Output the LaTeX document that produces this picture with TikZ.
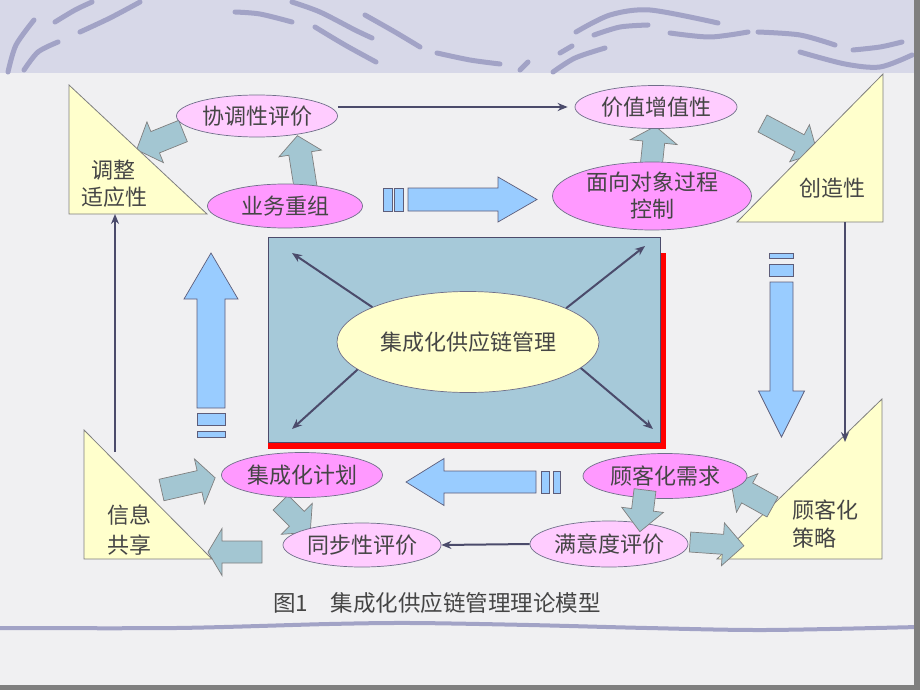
\documentclass[tikz,border=0pt]{standalone}
\usepackage{fontspec}
\newfontfamily\cjk{Noto Sans CJK SC}
\usetikzlibrary{shapes.geometric,arrows.meta,calc}
\definecolor{bg}{HTML}{F0F0F2}
\definecolor{hdr}{HTML}{D7D8E8}
\definecolor{strk}{HTML}{A2A3C6}
\definecolor{tri}{HTML}{FFFFCC}
\definecolor{pinkL}{HTML}{FFCCFF}
\definecolor{pinkD}{HTML}{FF99FF}
\definecolor{ctr}{HTML}{A6C9D9}
\definecolor{bigA}{HTML}{99CCFF}
\definecolor{smA}{HTML}{A3C6D2}
\definecolor{ln}{HTML}{4B4B6B}
\definecolor{txt}{HTML}{454545}
\definecolor{brd}{HTML}{7F7F7F}
\tikzset{
 trishape/.style={fill=tri, draw=brd, line width=0.8pt},
 ell/.style={ellipse, draw=ln!80, line width=0.7pt, inner sep=0pt, text=txt, font=\cjk\fontsize{22}{27}\selectfont},
 ellL/.style={ell, fill=pinkL},
 ellD/.style={ell, fill=pinkD},
 lbl/.style={text=txt, font=\cjk\fontsize{22}{27}\selectfont, inner sep=0pt},
 bigarrow/.style={fill=bigA, draw=ln!90, line width=0.7pt},
 smallarrow/.style={fill=smA, draw=brd, line width=0.7pt},
 conn/.style={draw=ln, line width=2pt, -{Stealth[length=10pt,width=8pt]}},
 hstroke/.style={draw=strk, line width=5pt, line cap=round},
}
% style, tail x, tail y, angle, length, shaft half width, head half width, head length
\newcommand{\blkarrow}[8]{%
\begin{scope}[shift={(#2,#3)},rotate=#4]
 \path[#1] (0,-#6) -- ({#5-#8},-#6) -- ({#5-#8},-#7) -- (#5,0) -- ({#5-#8},#7) -- ({#5-#8},#6) -- (0,#6) -- cycle;
\end{scope}}
\begin{document}
\begin{tikzpicture}[x=1pt,y=-1pt]
\useasboundingbox (0,0) rectangle (920,690);
\fill[bg] (0,0) rectangle (920,690);
% header band
\fill[hdr] (0,0) rectangle (920,73);
\draw[hstroke] plot[smooth] coordinates {(8,72) (16,45) (34,20)};
\draw[hstroke] plot[smooth] coordinates {(24,70) (38,52) (58,42)};
\draw[hstroke] plot[smooth] coordinates {(55,22) (75,10) (92,2)};
\draw[hstroke] plot[smooth] coordinates {(80,32) (110,18) (140,2)};
\draw[hstroke] plot[smooth] coordinates {(235,12) (260,14) (292,22)};
\draw[hstroke] plot[smooth] coordinates {(292,2) (320,12) (355,30) (372,38)};
\draw[hstroke] plot[smooth] coordinates {(315,27) (345,45) (376,62)};
\draw[hstroke] plot[smooth] coordinates {(365,15) (395,32) (420,47)};
\draw[hstroke] plot[smooth] coordinates {(437,53) (470,60) (500,64)};
\draw[hstroke] plot[smooth] coordinates {(520,70) (528,62)};
\draw[hstroke] plot[smooth] coordinates {(553,72) (575,58) (605,48)};
\draw[hstroke] plot[smooth] coordinates {(560,53) (572,46)};
\draw[hstroke] plot[smooth] coordinates {(576,32) (610,15) (650,10) (718,23)};
\draw[hstroke] plot[smooth] coordinates {(594,35) (620,27) (648,25)};
\draw[hstroke] plot[smooth] coordinates {(670,33) (710,37) (748,32)};
\draw[hstroke] plot[smooth] coordinates {(758,32) (800,35) (835,45)};
\draw[hstroke] plot[smooth] coordinates {(800,52) (845,64) (880,67) (912,55)};
\draw[hstroke] plot[smooth] coordinates {(853,50) (880,47) (902,42)};
% bottom wave
\draw[draw=strk, line width=4pt] plot[smooth] coordinates {(0,628) (176,628) (329,624) (412,623) (529,625) (647,628) (765,630) (918,627)};
% borders
\fill[brd] (914,0) rectangle (920,690);
\fill[brd] (0,685) rectangle (920,690);

% centre box with red shadow
\fill[red] (268,253) rectangle (666,449);
\node[draw=ln, fill=ctr, line width=0.8pt, inner sep=0pt, minimum width=392pt, minimum height=205pt] (box) at (464,339.5) {};

% big arrows
\blkarrow{bigarrow}{408}{199.5}{0}{129}{11.5}{22.5}{39}
\path[bigarrow] (383,188) rectangle (392,211);
\path[bigarrow] (394,188) rectangle (403,211);
\blkarrow{bigarrow}{211}{408}{90}{155}{14}{27}{46}
\path[bigarrow] (197,413) rectangle (225,425);
\path[bigarrow] (197,431) rectangle (225,437);
\blkarrow{bigarrow}{781.5}{282}{-90}{155}{11.5}{23}{46}
\path[bigarrow] (769,253) rectangle (793,258);
\path[bigarrow] (769,264) rectangle (793,276);
\blkarrow{bigarrow}{536}{482}{180}{130}{11}{23.5}{38}
\path[bigarrow] (541,471) rectangle (549,493);
\path[bigarrow] (553,471) rectangle (560,493);

% small arrows (under triangles / ellipses)
\blkarrow{smallarrow}{183}{131}{202}{50}{11.5}{22}{20}
\blkarrow{smallarrow}{306}{190}{99}{55}{11.5}{21.5}{18}
\blkarrow{smallarrow}{651}{168}{84}{42}{11}{23.5}{16}
\blkarrow{smallarrow}{762.5}{123.5}{-28}{62}{9.6}{21}{20}
\blkarrow{smallarrow}{161.5}{490}{12.8}{55}{11}{23}{16}
\blkarrow{smallarrow}{262}{552}{180}{54}{11}{23.5}{14}
\blkarrow{smallarrow}{280.5}{502.5}{-45}{42}{10.6}{22}{19}

% triangles
\path[trishape] (69,85) -- (69,214) -- (207,214) -- cycle;
\path[trishape] (883,74) -- (883,222) -- (737,222) -- cycle;
\path[trishape] (84,430) -- (84,559) -- (212,559) -- cycle;
\path[trishape] (882,399) -- (882,559) -- (717,559) -- cycle;
\coordinate (tz-b) at (115,214);
\coordinate (xxgx-t) at (115,452);
\coordinate (czx-b) at (845,222);
\coordinate (gkcl-t) at (845,442);

\blkarrow{smallarrow}{690}{542}{-4}{54}{10}{21.5}{21}
\blkarrow{smallarrow}{772.5}{507}{151}{47}{11.4}{22}{18}

% ellipses
\node[ellL, minimum width=161pt, minimum height=42pt] (xtpj) at (257,116) {协调性评价};
\node[ellD, minimum width=155pt, minimum height=44pt] (ywcz) at (285,206) {业务重组};
\node[ellL, minimum width=162pt, minimum height=43pt] (jzzz) at (656,107) {价值增值性};
\node[ellD, minimum width=199pt, minimum height=68pt] (mxdx) at (652,196) {};
\node[lbl, align=center] (mxdxt) at (mxdx.center) {面向对象过程\\控制};
\node[ellD, minimum width=161pt, minimum height=45pt] (jch) at (302,475) {集成化计划};
\node[ellL, minimum width=158pt, minimum height=44pt] (tbx) at (362,545) {同步性评价};
\node[ellD, minimum width=164pt, minimum height=45pt] (gkxq) at (665,476) {顾客化需求};
\node[ellL, minimum width=158pt, minimum height=46pt] (myd) at (609,544) {满意度评价};
\node[ell, fill=tri, minimum width=262pt, minimum height=101pt] (ce) at (468,342) {集成化供应链管理};

\blkarrow{smallarrow}{645}{490}{-97}{42}{11}{21}{22}

% connectors
\coordinate (l1s) at ($(xtpj.east)+(0,-9)$);
\draw[conn, shorten >=7pt] (l1s) -- (l1s -| jzzz.west);
\draw[conn] (czx-b) -- (gkcl-t);
\draw[conn] (xxgx-t) -- (tz-b);
\draw[conn] (myd.west) -- (tbx.east);
\coordinate (c-nw) at (292,253);
\coordinate (c-ne) at (645,246);
\coordinate (c-sw) at (292,429);
\coordinate (c-se) at (653,429);
\draw[conn] (ce.160) -- (c-nw);
\draw[conn] (ce.19) -- (c-ne);
\draw[conn] (ce.194) -- (c-sw);
\draw[conn] (ce.-13) -- (c-se);

% triangle labels
\node[lbl] (tz1) at (113,170) {调整};
\node[lbl] (tz2) at (114,197) {适应性};
\node[lbl] (cz) at (832,188) {创造性};
\node[lbl] (xx1) at (129,515) {信息};
\node[lbl] (xx2) at (129,545) {共享};
\node[lbl, anchor=west] (gk1) at (792,510) {顾客化};
\node[lbl, anchor=west] (gk2) at (792,538) {策略};

% caption
\node[lbl, font=\cjk\fontsize{22.5}{27}\selectfont] (cap) at (437,603) {图1\hspace{1em}集成化供应链管理理论模型};
\end{tikzpicture}
\end{document}
